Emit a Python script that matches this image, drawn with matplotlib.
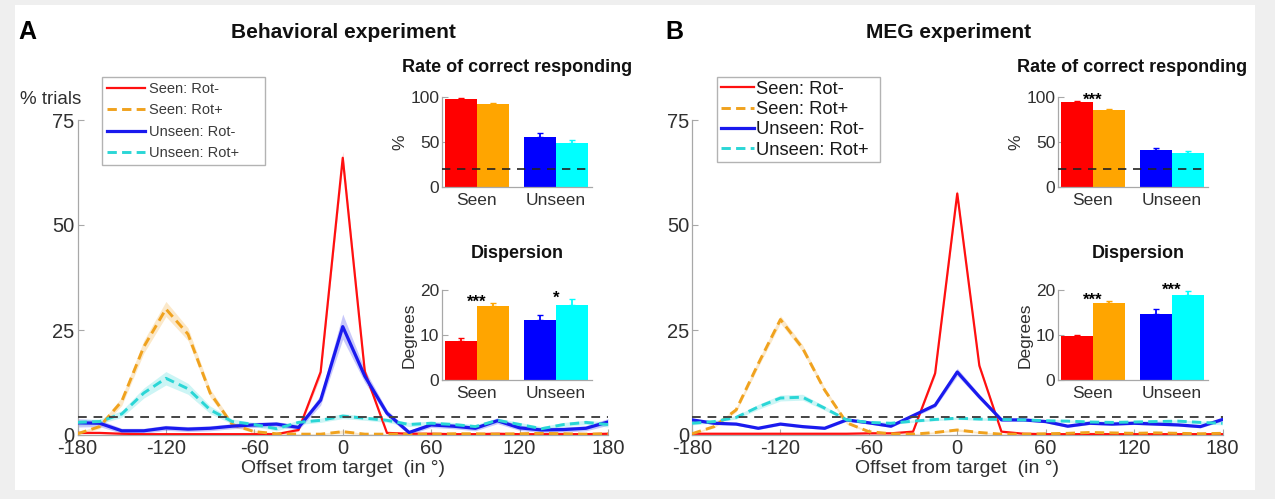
import matplotlib
matplotlib.use('Agg')
import matplotlib.pyplot as plt
from matplotlib.patches import Rectangle
import numpy as np

plt.rcParams['font.family'] = ['Liberation Sans', 'DejaVu Sans']

# ---------------- data ----------------
offsets = [-180, -165, -150, -135, -120, -105, -90, -75, -60, -45, -30, -15, 0,
           15, 30, 45, 60, 75, 90, 105, 120, 135, 150, 165, 180]
xticks = [-180, -120, -60, 0, 60, 120, 180]
yticks = [0, 25, 50, 75]
series_labels = ['Seen: Rot-', 'Seen: Rot+', 'Unseen: Rot-', 'Unseen: Rot+']
line_colors = ['#ff1010', '#f0a21e', '#1a1aee', '#2ad6d6']
bar_colors = ['#ff0000', '#ffa500', '#0000ff', '#00ffff']
line_styles = ['-', '--', '-', '--']
line_widths = [1.6, 2.1, 2.3, 2.1]
group_labels = ['Seen', 'Unseen']
chance_pct_trials = 4.17
chance_pct_correct = 20

# Panel A (behavioral)
a_seen_rotm = [0.5, 0.5, 0.3, 0.2, 0.2, 0.2, 0.2, 0.2, 0.2, 0.2, 1.2, 15, 66,
               15, 0.5, 0.3, 0.3, 0.2, 0.2, 0.3, 0.2, 0.2, 0.2, 0.2, 0.3]
a_seen_rotm_sem = [0.2, 0.2, 0.1, 0.1, 0.1, 0.1, 0.1, 0.1, 0.1, 0.1, 0.3, 1.0, 1.5,
                   1.0, 0.2, 0.1, 0.1, 0.1, 0.1, 0.1, 0.1, 0.1, 0.1, 0.1, 0.2]
a_seen_rotp = [0.3, 2.0, 8.0, 21, 30, 24, 10, 2.5, 0.8, 0.3, 0.2, 0.2, 0.8,
               0.2, 0.2, 0.2, 0.2, 0.3, 0.3, 0.2, 0.3, 0.4, 0.3, 0.2, 0.3]
a_seen_rotp_sem = [0.2, 0.5, 1.0, 1.5, 1.8, 1.5, 1.0, 0.5, 0.3, 0.2, 0.1, 0.1, 0.4,
                   0.1, 0.1, 0.1, 0.1, 0.1, 0.1, 0.1, 0.1, 0.1, 0.1, 0.1, 0.1]
a_unseen_rotm = [2.9, 2.8, 1.0, 1.0, 1.7, 1.4, 1.6, 2.1, 2.4, 2.6, 1.8, 8.3, 25.8,
                 14, 5.2, 0.6, 2.4, 2.1, 1.6, 3.4, 1.7, 1.2, 1.3, 1.6, 3.1]
a_unseen_rotm_sem = [1.0, 0.8, 0.6, 0.6, 0.6, 0.6, 0.6, 0.6, 0.6, 0.6, 0.6, 1.2, 3.0,
                     1.5, 0.8, 0.5, 0.6, 0.6, 0.6, 0.7, 0.6, 0.6, 0.6, 0.6, 0.8]
a_unseen_rotp = [3.0, 3.2, 5.0, 10, 13.5, 11, 6.0, 3.2, 2.5, 1.5, 3.0, 3.5, 4.5,
                 4.0, 3.5, 2.5, 2.8, 2.5, 2.0, 3.5, 2.5, 1.5, 2.5, 3.0, 2.5]
a_unseen_rotp_sem = [0.7, 0.6, 0.8, 1.2, 1.6, 1.3, 0.9, 0.6, 0.5, 0.5, 0.5, 0.5, 0.6,
                     0.5, 0.5, 0.5, 0.5, 0.5, 0.5, 0.5, 0.5, 0.5, 0.5, 0.5, 0.6]
a_rate = [98, 92, 56, 49]
a_rate_err = [0.5, 1.5, 4.5, 3.5]
a_disp = [8.7, 16.4, 13.3, 16.7]
a_disp_err = [0.7, 0.7, 1.1, 1.3]
a_rate_stars = []
a_disp_stars = [('Seen', '***'), ('Unseen', '*')]

# Panel B (MEG)
b_seen_rotm = [0.3, 0.3, 0.3, 0.3, 0.3, 0.3, 0.3, 0.3, 0.4, 0.4, 0.8, 14.7, 57.5,
               16.5, 0.8, 0.3, 0.2, 0.2, 0.2, 0.2, 0.2, 0.2, 0.2, 0.2, 0.2]
b_seen_rotm_sem = [0.1, 0.1, 0.1, 0.1, 0.1, 0.1, 0.1, 0.1, 0.1, 0.1, 0.2, 0.6, 0.9,
                   0.6, 0.2, 0.1, 0.1, 0.1, 0.1, 0.1, 0.1, 0.1, 0.1, 0.1, 0.1]
b_seen_rotp = [0.3, 2.0, 6.0, 17, 27.5, 20.7, 10.7, 2.9, 0.8, 0.3, 0.2, 0.6, 1.2,
               0.6, 0.2, 0.2, 0.3, 0.4, 0.6, 0.5, 0.4, 0.5, 0.4, 0.3, 0.4]
b_seen_rotp_sem = [0.1, 0.3, 0.5, 0.8, 0.9, 0.8, 0.6, 0.3, 0.2, 0.1, 0.1, 0.2, 0.3,
                   0.2, 0.1, 0.1, 0.1, 0.1, 0.1, 0.1, 0.1, 0.1, 0.1, 0.1, 0.1]
b_unseen_rotm = [3.6, 2.8, 2.6, 1.6, 2.6, 2.0, 1.6, 3.6, 2.9, 2.1, 4.6, 7.1, 15,
                 9.1, 3.6, 3.6, 3.2, 2.1, 2.8, 2.6, 2.8, 2.6, 2.4, 2.0, 3.7]
b_unseen_rotm_sem = [0.4, 0.3, 0.3, 0.3, 0.3, 0.3, 0.3, 0.3, 0.3, 0.3, 0.4, 0.5, 0.9,
                     0.6, 0.3, 0.3, 0.3, 0.3, 0.3, 0.3, 0.3, 0.3, 0.3, 0.3, 0.4]
b_unseen_rotp = [2.8, 3.2, 4.2, 6.7, 8.8, 9.0, 6.4, 3.6, 3.0, 2.8, 3.3, 3.7, 4.0,
                 3.8, 3.7, 3.6, 3.4, 3.3, 3.1, 3.0, 3.1, 3.2, 3.3, 3.0, 2.8]
b_unseen_rotp_sem = [0.4, 0.3, 0.4, 0.6, 0.7, 0.7, 0.5, 0.3, 0.3, 0.3, 0.3, 0.3, 0.3,
                     0.3, 0.3, 0.3, 0.3, 0.3, 0.3, 0.3, 0.3, 0.3, 0.3, 0.3, 0.4]
b_rate = [94.4, 85.2, 41.5, 37.8]
b_rate_err = [0.7, 1.5, 2.0, 2.5]
b_disp = [9.8, 17.2, 14.6, 19.0]
b_disp_err = [0.3, 0.4, 1.2, 0.8]
b_rate_stars = [('Seen', '***')]
b_disp_stars = [('Seen', '***'), ('Unseen', '***')]

# ---------------- figure ----------------
W, H = 1275, 499
fig = plt.figure(figsize=(W / 100, H / 100), dpi=100)
fig.patch.set_facecolor('#efefef')
fig.patches.append(Rectangle((15 / W, 1 - 490 / H), (1255 - 15) / W, (490 - 5) / H,
                             transform=fig.transFigure, facecolor='white',
                             edgecolor='none', zorder=-10))

SPINE = '#a8a8a8'
TXT = '#303030'


def fx(px):
    return px / W


def fy(py):
    return 1 - py / H


def style_axes(ax, fs, pad=2):
    for s in ['top', 'right']:
        ax.spines[s].set_visible(False)
    for s in ['left', 'bottom']:
        ax.spines[s].set_color(SPINE)
        ax.spines[s].set_linewidth(0.9)
    ax.tick_params(direction='in', length=4, width=0.8, color=SPINE,
                   labelsize=fs, labelcolor=TXT, pad=pad)
    ax.set_facecolor('none')


def main_panel(left_px, series, sems, legend_box, legend_fs, legend_opts, text_color):
    ax = fig.add_axes([fx(left_px), fy(435), fx(530.5), 315 / H])
    style_axes(ax, 14.5)
    ax.tick_params(axis='x', pad=3)
    handles = []
    for vals, sem, c, ls, lw, lab in zip(series, sems, line_colors, line_styles,
                                         line_widths, series_labels):
        v = np.array(vals)
        e = np.array(sem)
        ax.fill_between(offsets, v - e, v + e, color=c, alpha=0.24, lw=0, zorder=2)
        if ls == '--':
            h, = ax.plot(offsets, v, color=c, lw=lw, ls=ls, dashes=(3.2, 1.8),
                         label=lab, zorder=3)
        else:
            h, = ax.plot(offsets, v, color=c, lw=lw, ls=ls, label=lab, zorder=3)
        handles.append(h)
    ax.plot([offsets[0], offsets[-1]], [chance_pct_trials] * 2, color='#444444',
            lw=1.4, dashes=(4.5, 3.5), zorder=4)
    ax.set_xlim(-180, 180)
    ax.set_ylim(0, 75)
    ax.set_xticks(xticks)
    ax.set_xticklabels([str(t) for t in xticks])
    ax.set_yticks(yticks)
    ax.set_xlabel('Offset from target  (in °)', fontsize=14, color=TXT, labelpad=1)
    x0, y0, x1, y1 = legend_box
    leg = ax.legend(handles=handles, loc='upper left',
                    bbox_to_anchor=(fx(x0), fy(y1), fx(x1 - x0), (y1 - y0) / H),
                    bbox_transform=fig.transFigure, mode='expand', borderaxespad=0,
                    fancybox=False, fontsize=legend_fs, **legend_opts)
    leg.get_frame().set_edgecolor('#a0a0a0')
    leg.get_frame().set_linewidth(1.0)
    for t in leg.get_texts():
        t.set_color(text_color)
    return ax


def inset(left_px, top_px, ymax, yticks_, vals, errs, ylabel, stars, chance=None):
    ax = fig.add_axes([fx(left_px), fy(top_px + 90), fx(150), 90 / H])
    style_axes(ax, 12.5)
    pos = [1, 2, 3.5, 4.5]
    ax.bar(pos, vals, width=1.0, color=bar_colors, edgecolor='none', zorder=2)
    for p, v, e, c in zip(pos, vals, errs, bar_colors):
        ax.errorbar([p], [v], yerr=[[0], [e]], fmt='none', ecolor=c, elinewidth=1.3,
                    capsize=2, capthick=1.0, zorder=3)
    if chance is not None:
        ax.plot([0.4, 5.13], [chance, chance], color='#222222', lw=1.2,
                dashes=(5, 4), zorder=4)
    ax.set_xlim(0.4, 5.13)
    ax.set_ylim(0, ymax)
    ax.set_yticks(yticks_)
    ax.set_xticks([1.5, 4.0])
    ax.set_xticklabels(group_labels)
    ax.tick_params(axis='x', length=0, pad=4)
    ax.set_ylabel(ylabel, fontsize=12.5, color=TXT, labelpad=2)
    for g, s in stars:
        gi = group_labels.index(g)
        top = max(vals[2 * gi] + errs[2 * gi], vals[2 * gi + 1] + errs[2 * gi + 1])
        ax.annotate(s, xy=([1.5, 4.0][gi], top), xytext=(0, 0.5),
                    textcoords='offset points', ha='center', va='center',
                    fontsize=12, fontweight='bold', color='black',
                    annotation_clip=False, zorder=5)
    return ax


# Panel A
axA = main_panel(77.5,
                 [a_seen_rotm, a_seen_rotp, a_unseen_rotm, a_unseen_rotp],
                 [a_seen_rotm_sem, a_seen_rotp_sem, a_unseen_rotm_sem, a_unseen_rotp_sem],
                 (102, 77, 265, 174), 10.5,
                 dict(handlelength=2.6, handletextpad=0.3, labelspacing=0.5,
                      borderpad=0.35), '#3a3a3a')
fig.text(fx(51), fy(100), '% trials', ha='center', va='center', fontsize=13.5, color=TXT)
fig.text(fx(27), fy(32), 'A', ha='center', va='center', fontsize=18, fontweight='bold')
fig.text(fx(343), fy(32), 'Behavioral experiment', ha='center', va='center',
         fontsize=15, fontweight='bold', color='#111111')
inset(442, 97, 100, [0, 50, 100], a_rate, a_rate_err, '%', a_rate_stars,
      chance=chance_pct_correct)
inset(442, 290, 20, [0, 10, 20], a_disp, a_disp_err, 'Degrees', a_disp_stars)
fig.text(fx(517), fy(68), 'Rate of correct responding', ha='center', va='center',
         fontsize=13, fontweight='bold', color='#111111')
fig.text(fx(517), fy(254), 'Dispersion', ha='center', va='center',
         fontsize=13, fontweight='bold', color='#111111')

# Panel B
axB = main_panel(692,
                 [b_seen_rotm, b_seen_rotp, b_unseen_rotm, b_unseen_rotp],
                 [b_seen_rotm_sem, b_seen_rotp_sem, b_unseen_rotm_sem, b_unseen_rotp_sem],
                 (717, 77, 880, 174), 13.2,
                 dict(handlelength=1.8, handletextpad=0.1, labelspacing=0.18,
                      borderpad=0.2), '#1a1a1a')
fig.text(fx(674), fy(32), 'B', ha='center', va='center', fontsize=18, fontweight='bold')
fig.text(fx(949), fy(32), 'MEG experiment', ha='center', va='center',
         fontsize=15, fontweight='bold', color='#111111')
inset(1058, 97, 100, [0, 50, 100], b_rate, b_rate_err, '%', b_rate_stars,
      chance=chance_pct_correct)
inset(1058, 290, 20, [0, 10, 20], b_disp, b_disp_err, 'Degrees', b_disp_stars)
fig.text(fx(1132), fy(68), 'Rate of correct responding', ha='center', va='center',
         fontsize=13, fontweight='bold', color='#111111')
fig.text(fx(1138), fy(254), 'Dispersion', ha='center', va='center',
         fontsize=13, fontweight='bold', color='#111111')

fig.savefig('out.png', dpi=100, facecolor=fig.get_facecolor())
